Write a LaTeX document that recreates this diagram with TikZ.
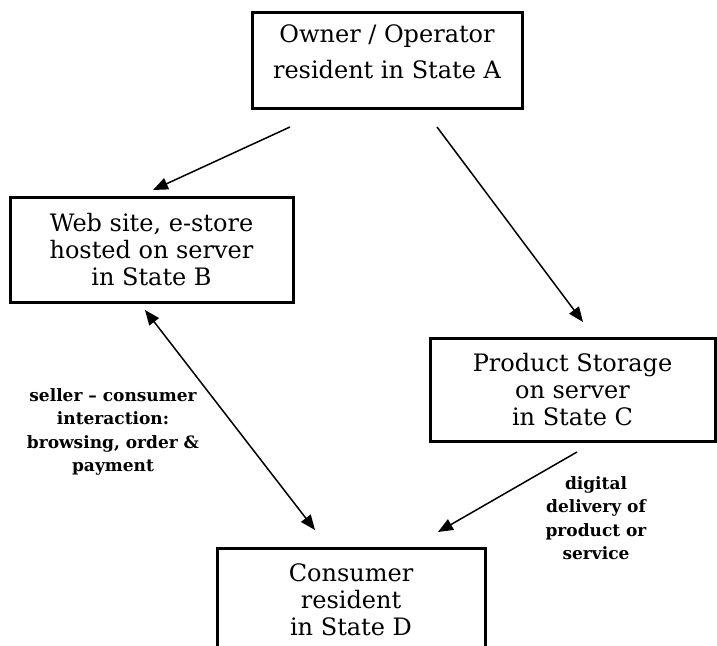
\documentclass[tikz,border=0pt]{standalone}
\usepackage{fontspec}
\setmainfont{DejaVu Serif}
\usetikzlibrary{arrows.meta}

\begin{document}
\begin{tikzpicture}[x=1pt,y=-1pt,
    box/.style={draw, line width=3pt, align=center, inner sep=0pt, font=\fontsize{24}{27}\selectfont},
    note/.style={align=center, inner sep=0pt, font=\bfseries\fontsize{17}{23.5}\selectfont},
    arr/.style={line width=1.5pt, -{Triangle[length=15pt,width=12pt]}},
    dblarr/.style={line width=1.5pt, {Triangle[length=15pt,width=12pt]}-{Triangle[length=15pt,width=12pt]}}]
    \useasboundingbox (0,0) rectangle (717,645);
    \node[box, minimum width=270pt, minimum height=96pt, font=\fontsize{24}{36}\selectfont, text depth=16pt] (owner) at (387,60) {Owner / Operator\\resident in State A};
    \node[box, minimum width=283pt, minimum height=105pt] (site) at (151.5,249.5) {Web site, e-store\\hosted on server\\in State B};
    \node[box, minimum width=285pt, minimum height=103pt] (storage) at (572.5,389.5) {Product Storage\\on server\\in State C};
    \node[box, minimum width=268pt, minimum height=104pt] (consumer) at (351,600) {Consumer\\resident\\in State D};
    \node[note] (interact) at (113,432) {seller -- consumer\\interaction:\\browsing, order \&\\payment};
    \node[note] (delivery) at (596,518) {digital\\delivery of\\product or\\service};
    \coordinate (owner-l) at (290,127);
    \coordinate (owner-r) at (437,127);
    \coordinate (site-t) at (153,190);
    \coordinate (site-b) at (145,310);
    \coordinate (storage-t) at (583,322);
    \coordinate (storage-b) at (577,452);
    \coordinate (consumer-l) at (315,530);
    \coordinate (consumer-r) at (438,532);
    \draw[arr] (owner-l) -- (site-t);
    \draw[arr] (owner-r) -- (storage-t);
    \draw[dblarr] (site-b) -- (consumer-l);
    \draw[arr] (storage-b) -- (consumer-r);
\end{tikzpicture}
\end{document}
